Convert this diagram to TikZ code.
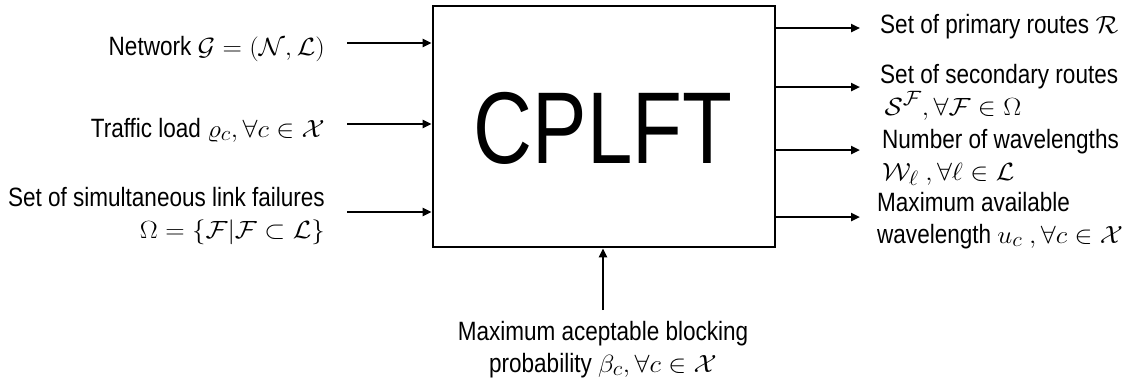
\documentclass[tikz,border=0pt]{standalone}
\usepackage{amsmath,amssymb}
\usepackage{graphicx}
\usepackage{fontspec}
\setmainfont{Liberation Sans}[FakeStretch=0.85]
\newfontfamily\titlefont{Liberation Sans}[FakeStretch=0.8]
\DeclareMathSizes{26.5}{27.5}{19.5}{14}
\newcommand\mm[1]{\scalebox{1.08}[1]{$#1$}}
\usetikzlibrary{arrows.meta}
\begin{document}
\begin{tikzpicture}[x=1pt,y=-1pt,
  lbl/.style={inner sep=0pt, font=\fontsize{26.5}{32}\selectfont},
  arr/.style={line width=2.4pt, -{Triangle[length=9pt,width=8pt]}},
  blk/.style={draw, line width=2.6pt, minimum width=342pt, minimum height=241pt, inner sep=0pt}]
\useasboundingbox (0,0) rectangle (1135,381);
\node[blk] (box) at (604,126.5) {};
\node[inner sep=0pt, anchor=base, font=\titlefont\fontsize{102}{110}\selectfont] (title) at (603,163) {CPLFT};
% inputs
\coordinate (i1) at (347,43);
\coordinate (i2) at (347,124);
\coordinate (i3) at (347,212);
\coordinate (i4) at (603,310);
\draw[arr] (i1) -- (box.west |- i1);
\draw[arr] (i2) -- (box.west |- i2);
\draw[arr] (i3) -- (box.west |- i3);
\draw[arr] (i4) -- (box.south -| i4);
% outputs
\coordinate (o1) at (860,28);
\coordinate (o2) at (860,87);
\coordinate (o3) at (860,150);
\coordinate (o4) at (860,217);
\draw[arr] (box.east |- o1) -- (o1);
\draw[arr] (box.east |- o2) -- (o2);
\draw[arr] (box.east |- o3) -- (o3);
\draw[arr] (box.east |- o4) -- (o4);
% labels
\node[lbl, anchor=base east] (l1) at (325,55) {Network \mm{\mathcal{G}=(\mathcal{N},\mathcal{L})}};
\node[lbl, anchor=base east] (l2) at (325,137) {Traffic load \mm{\varrho_c,\forall c\in\mathcal{X}}};
\node[lbl, anchor=base east, align=right] (l3) at (325,238) {Set of simultaneous link failures\\ \mm{\Omega=\{\mathcal{F}|\mathcal{F}\subset\mathcal{L}\}}};
\node[lbl, anchor=base, align=center] (l4) at (603,372) {Maximum aceptable blocking\\ probability \mm{\beta_c,\forall c\in\mathcal{X}}};
\node[lbl, anchor=base west] (r1) at (880,33) {Set of primary routes \mm{\mathcal{R}}};
\node[lbl, anchor=base west, align=left] (r2) at (880,115) {Set of secondary routes\\ \mm{\,\mathcal{S}^{\mathcal{F}},\forall\mathcal{F}\in\Omega}};
\node[lbl, anchor=base west, align=left] (r3) at (882,180) {Number of wavelengths\\ \mm{\mathcal{W}_\ell\ ,\forall\ell\in\mathcal{L}}};
\node[lbl, anchor=base west, align=left] (r4) at (877,243) {Maximum available\\ wavelength \mm{u_c\ ,\forall c\in\mathcal{X}}};
\end{tikzpicture}
\end{document}
